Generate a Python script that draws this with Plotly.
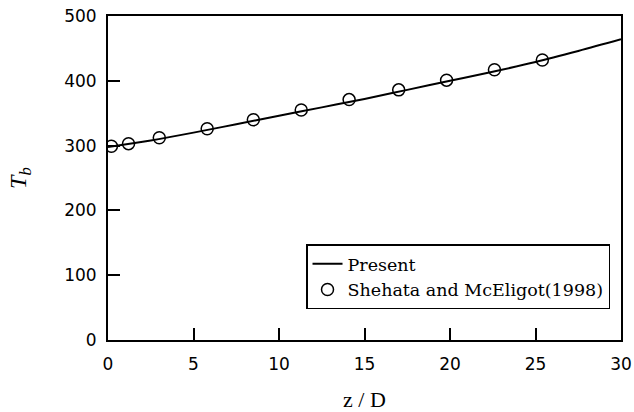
import plotly.graph_objects as go

# Present (computed line)
present_z = [0, 2.5, 5, 7.5, 10, 12.5, 15, 17.5, 20, 22.5, 25, 27.5, 30]
present_T = [298, 308, 320, 333, 346, 359, 372, 386, 400, 414, 429, 446, 464]

# Shehata and McEligot (1998) data
exp_z = [0.2, 1.2, 3.0, 5.8, 8.5, 11.3, 14.1, 17.0, 19.8, 22.6, 25.4]
exp_T = [299, 303, 312, 326, 340, 355, 371, 386, 401, 417, 432]

x_ticks = [0, 5, 10, 15, 20, 25, 30]
y_ticks = [0, 100, 200, 300, 400, 500]

serif = "Liberation Serif, Times New Roman, serif"
wide_serif = "DejaVu Serif, serif"
sans = "DejaVu Sans, Arial, sans-serif"

fig = go.Figure()
fig.add_trace(go.Scatter(
    x=present_z, y=present_T, mode="lines", name="Present",
    line=dict(color="black", width=2, shape="spline"),
))
fig.add_trace(go.Scatter(
    x=exp_z, y=exp_T, mode="markers", name="Shehata and McEligot(1998)",
    marker=dict(symbol="circle-open", size=12, color="black", line=dict(width=1.5)),
))

fig.update_layout(
    width=634, height=412,
    margin=dict(l=108, r=13, t=16, b=72),
    paper_bgcolor="white", plot_bgcolor="white",
    showlegend=True,
    legend=dict(
        x=0.386, y=0.295, xanchor="left", yanchor="top",
        bordercolor="black", borderwidth=1.5, bgcolor="white",
        font=dict(family=wide_serif, size=17.5, color="black"),
        tracegroupgap=0, itemwidth=30,
    ),
    xaxis=dict(
        range=[0, 30], tickvals=x_ticks, ticktext=[str(v) for v in x_ticks],
        showline=True, linecolor="black", linewidth=2, mirror=True,
        ticks="inside", ticklen=12, tickwidth=2, tickcolor="black",
        showgrid=False, zeroline=False, automargin=False,
        tickfont=dict(family=sans, size=17, color="black"),
        ticklabelstandoff=8,
        title=dict(text="z / D", font=dict(family=serif, size=22, color="black"), standoff=31),
    ),
    yaxis=dict(
        range=[0, 500], tickvals=y_ticks, ticktext=[str(v) for v in y_ticks],
        showline=True, linecolor="black", linewidth=2, mirror=True,
        ticks="inside", ticklen=12, tickwidth=2, tickcolor="black",
        showgrid=False, zeroline=False, automargin=False,
        tickfont=dict(family=sans, size=17, color="black"),
        ticklabelstandoff=6,
        title=dict(text="<i>T<sub>b</sub></i>", font=dict(family=serif, size=24, color="black"), standoff=31),
    ),
)

fig.write_html("out.html", config={"displayModeBar": False},
               post_script="document.body.style.margin='0';")
